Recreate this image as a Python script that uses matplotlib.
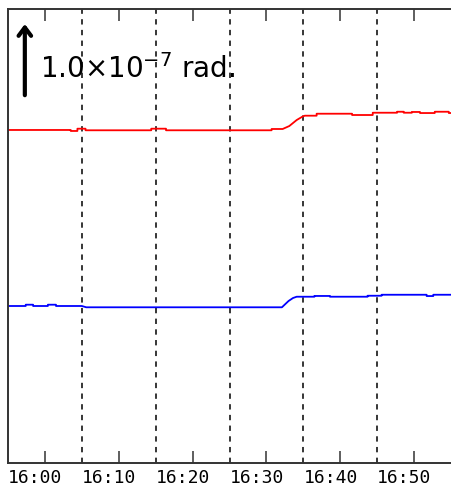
import numpy as np
import matplotlib
matplotlib.use("Agg")
import matplotlib.pyplot as plt

# minutes after 16:00, tilt in units of 1e-7 rad (repeated times = step changes)
red_t = [0.0, 8.5, 8.5, 9.4, 9.4, 10.5, 10.5, 19.4, 19.4, 21.4, 21.4, 35.7, 35.7,
         37.2, 38.1, 39.1, 39.9, 40.2, 41.8, 41.8, 46.6, 46.6, 49.4, 49.4,
         52.7, 52.7, 53.6, 53.6, 54.7, 54.7, 55.8, 55.8, 57.8, 57.8, 59.7, 59.7, 60.0]
red_v = [4.395, 4.395, 4.382, 4.382, 4.412, 4.412, 4.391, 4.391, 4.412, 4.412, 4.391, 4.391, 4.408,
         4.408, 4.447, 4.526, 4.572, 4.583, 4.583, 4.609, 4.609, 4.592, 4.592, 4.622,
         4.622, 4.635, 4.635, 4.622, 4.622, 4.632, 4.632, 4.618, 4.618, 4.635, 4.635, 4.618, 4.618]

blue_t = [0.0, 2.4, 2.4, 3.4, 3.4, 5.4, 5.4, 6.5, 6.5, 10.0, 10.6,
          37.1, 38.0, 38.6, 39.1, 41.5, 41.5, 43.6, 43.6,
          48.7, 48.7, 50.6, 50.6, 56.7, 56.7, 57.6, 57.6, 60.0]
blue_v = [2.079, 2.079, 2.096, 2.096, 2.079, 2.079, 2.096, 2.096, 2.079, 2.079, 2.062,
          2.062, 2.145, 2.184, 2.201, 2.201, 2.211, 2.211, 2.201,
          2.201, 2.214, 2.214, 2.227, 2.227, 2.210, 2.210, 2.227, 2.227]

major_ticks = [0, 10, 20, 30, 40, 50]
tick_labels = ["16:00", "16:10", "16:20", "16:30", "16:40", "16:50"]
minor_ticks = [5, 15, 25, 35, 45, 55]

W, H = 451, 494
fig = plt.figure(figsize=(W / 100, H / 100), dpi=100)
ax = fig.add_axes([8 / W, (H - 463) / H, 443 / W, 454 / H])

ax.plot(red_t, red_v, color="#ff0000", lw=1.3)
ax.plot(blue_t, blue_v, color="#0000ff", lw=1.3)

for t in major_ticks[1:]:
    ax.axvline(t, color="black", lw=1.1, dashes=(3.5, 3.5), zorder=0)

ax.set_xlim(0, 60)
ax.set_ylim(1 / 76, 455 / 76)
ax.set_yticks([])
ax.set_xticks(major_ticks)
ax.set_xticklabels(tick_labels, family="DejaVu Sans Mono", fontsize=13, ha="left")
ax.set_xticks(minor_ticks, minor=True)
ax.tick_params(axis="x", which="major", length=0, pad=4)
ax.tick_params(axis="x", which="minor", direction="in", length=8.5, width=1.1,
               top=True, bottom=True, color="#333333")

ax.spines["right"].set_visible(False)
for s in ["left", "top", "bottom"]:
    ax.spines[s].set_color("#333333")
    ax.spines[s].set_linewidth(1.4)

# scale bar arrow
ax.annotate("", xy=(0.038, 0.973), xytext=(0.038, 0.804), xycoords="axes fraction",
            arrowprops=dict(arrowstyle="->,head_length=0.6,head_width=0.45",
                            color="black", lw=3))
ax.text(0.072, 0.848, r"1.0×10$^{\mathsf{-7}}$ rad.", transform=ax.transAxes, fontsize=20,
        family="DejaVu Sans", va="baseline", ha="left")

fig.savefig("out.png", dpi=100)
